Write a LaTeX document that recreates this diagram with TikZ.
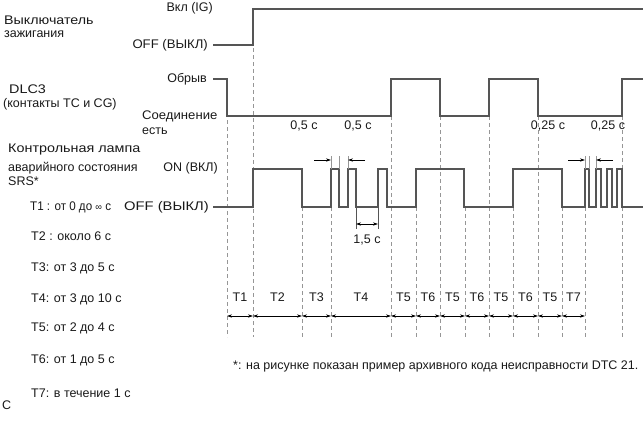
\documentclass[tikz,border=0pt]{standalone}
\usepackage{graphicx}
\usepackage{fontspec}
\setmainfont{Liberation Sans}
\usetikzlibrary{arrows.meta}
\definecolor{wavecol}{RGB}{85,85,85}
\definecolor{dashcol}{RGB}{150,150,150}
\definecolor{txt}{RGB}{25,25,25}
\newcommand{\wideX}[2]{\scalebox{#1}[1]{#2}}
\begin{document}
\begin{tikzpicture}[x=1pt,y=-1pt,
  lbl/.style={inner sep=0pt, font=\fontsize{12.5}{14}\selectfont, text=txt},
  lw/.style={lbl, anchor=west},
  le/.style={lbl, anchor=east},
  lc/.style={lbl, anchor=center},
  wave/.style={draw=wavecol, line width=1.2pt, line join=miter},
  guide/.style={draw=dashcol, line width=0.7pt, dash pattern=on 4pt off 3pt},
  span/.style={draw=black, line width=0.5pt, {Stealth[length=5pt,width=3.2pt]}-{Stealth[length=5pt,width=3.2pt]}},
  tickline/.style={draw=dashcol, line width=0.5pt},
  markarrow/.style={draw=black, line width=0.5pt, -{Stealth[length=5pt,width=3.2pt]}}]
\useasboundingbox (0,0) rectangle (643,421);

% ---- left labels ----
\node[lw] (ign1) at (4,20) {\wideX{1.14}{Выключатель}};
\node[lw] (ign2) at (4,34) {зажигания};
\node[le] (igon) at (213,8) {Вкл (IG)};
\node[le] (igoff) at (208,45) {\wideX{1.05}{OFF (ВЫКЛ)}};
\node[le] (dlcopen) at (207,79) {Обрыв};
\node[lw] (dlc1) at (9,89) {\wideX{1.15}{DLC3}};
\node[lw] (dlc2) at (3,104) {(контакты TC и CG)};
\node[lw] (dlcsh1) at (142,116) {\wideX{1.05}{Соединение}};
\node[lw] (dlcsh2) at (142,131) {есть};
\node[lw] (srs1) at (8,149) {\wideX{1.15}{Контрольная лампа}};
\node[lw] (srs2) at (8,168) {аварийного состояния};
\node[lw] (srs3) at (8,181) {SRS*};
\node[le] (srson) at (218,168) {ON (ВКЛ)};
\node[le] (srsoff) at (209,207) {\wideX{1.18}{OFF (ВЫКЛ)}};
\node[lw] (t1) at (30,207) {\wideX{0.93}{T1 : от 0 до {\fontsize{10}{10}\selectfont ∞} с}};
\node[lw] (t2) at (31,236) {T2 : около 6 с};
\node[lw] (t3) at (31,268) {T3: от 3 до 5 с};
\node[lw] (t4) at (31,299) {T4: от 3 до 10 с};
\node[lw] (t5) at (31,328) {T5: от 2 до 4 с};
\node[lw] (t6) at (31,360) {T6: от 1 до 5 с};
\node[lw] (t7) at (31,393) {T7: в течение 1 с};
\node[lw] (cc) at (2,405) {С};
\node[lw] (note) at (233,366) {*: на рисунке показан пример архивного кода неисправности DTC 21.};

% ---- dashed guides ----
\foreach \x/\y in {227/120,253/48,302/207,331/207,391/116,416/207,440/116,465/207,489/116,513/207,538/116,562/207,585/207,622/116}
  \draw[guide] (\x,\y) -- (\x,337);

% ---- waveforms ----
\draw[wave] (213,45) -- (253,45) -- (253,9) -- (643,9);
\draw[wave] (213,79) -- (227,79) -- (227,116) -- (391,116) -- (391,79) -- (440,79) -- (440,116)
  -- (489,116) -- (489,79) -- (538,79) -- (538,116) -- (622,116) -- (622,79) -- (643,79);
\draw[wave] (213,207) -- (253,207) -- (253,169) -- (302,169) -- (302,207)
  -- (331,207) -- (331,169) -- (339,169) -- (339,207)
  -- (348,207) -- (348,169) -- (356,169) -- (356,207)
  -- (378,207) -- (378,169) -- (387,169) -- (387,207)
  -- (416,207) -- (416,169) -- (464,169) -- (464,207)
  -- (513,207) -- (513,169) -- (562,169) -- (562,207)
  -- (585,207) -- (585,169) -- (589,169) -- (589,207)
  -- (596,207) -- (596,169) -- (601,169) -- (601,207)
  -- (607,207) -- (607,169) -- (612,169) -- (612,207)
  -- (617,207) -- (617,169) -- (622,169) -- (622,207) -- (643,207);

% ---- time labels on DLC ----
\node[lc] (h1) at (304,126) {0,5 с};
\node[lc] (h2) at (358,126) {0,5 с};
\node[lc] (q1) at (548,126) {0,25 с};
\node[lc] (q2) at (608,126) {0,25 с};

% ---- pulse-width marks ----
\foreach \x in {331,339,348} \draw[tickline] (\x,156) -- (\x,169);
\coordinate (ma1) at (314,160); \coordinate (mb1) at (331,160);
\coordinate (ma2) at (365,160); \coordinate (mb2) at (348,160);
\draw[markarrow] (ma1) -- (mb1);
\draw[markarrow] (ma2) -- (mb2);
\foreach \x in {585,589,596} \draw[tickline] (\x,156) -- (\x,169);
\coordinate (mc1) at (568,160); \coordinate (md1) at (585,160);
\coordinate (mc2) at (613,160); \coordinate (md2) at (596,160);
\draw[markarrow] (mc1) -- (md1);
\draw[markarrow] (mc2) -- (md2);

% ---- 1,5 s dimension ----
\draw[tickline,draw=wavecol] (356,207) -- (356,229);
\draw[tickline,draw=wavecol] (378,207) -- (378,229);
\coordinate (da) at (356,224); \coordinate (db) at (378,224);
\draw[span] (da) -- (db);
\node[lc] (d15) at (367,240) {1,5 с};

% ---- T spans ----
\foreach \a/\b/\n in {227/253/T1,253/302/T2,302/331/T3,331/391/T4,391/416/T5,416/440/T6,440/465/T5,465/489/T6,489/513/T5,513/538/T6,538/562/T5,562/585/T7}{
  \coordinate (sa\a) at (\a,316);
  \coordinate (sb\a) at (\b,316);
  \draw[span] (sa\a) -- (sb\a);
  \node[lc] (lab\a) at ({(\a+\b)/2},297) {\n};
}
\end{tikzpicture}
\end{document}
